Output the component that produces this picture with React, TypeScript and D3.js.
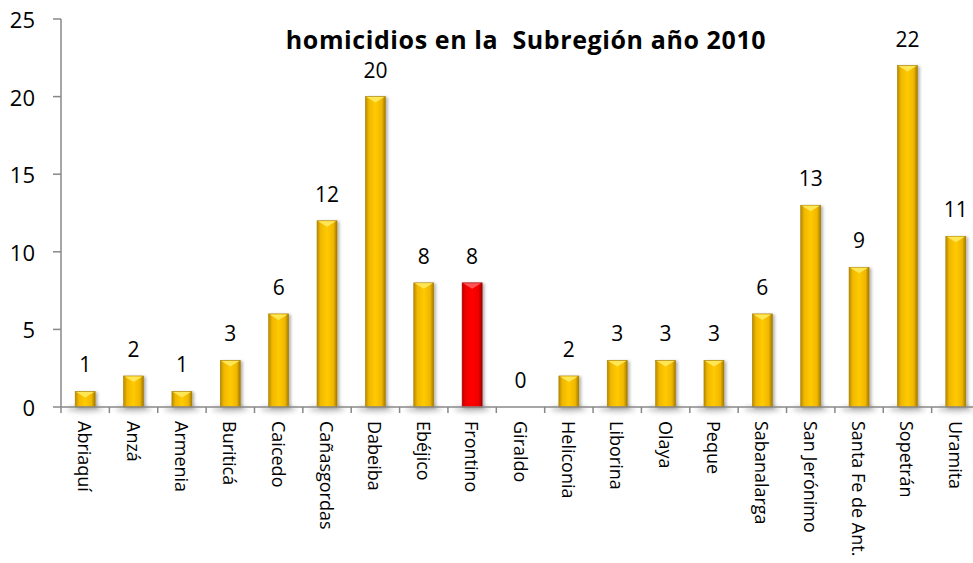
import React from "react";
import * as d3 from "d3";

const categories = ["Abriaquí","Anzá","Armenia","Buriticá","Caicedo","Cañasgordas","Dabeiba","Ebéjico","Frontino","Giraldo","Heliconia","Liborina","Olaya","Peque","Sabanalarga","San Jerónimo","Santa Fe de Ant.","Sopetrán","Uramita"];
const values = [1,2,1,3,6,12,20,8,8,0,2,3,3,3,6,13,9,22,11];
const highlighted = ["Frontino"];
const yTicks = [0,5,10,15,20,25];
const title = "homicidios en la  Subregión año 2010";

const W = 973, H = 563;
const FONT = "'Open Sans', 'Liberation Sans', sans-serif";

export default function App() {
  const x = d3.scaleBand<string>().domain(categories).range([61, 980]).paddingInner(0).paddingOuter(0);
  const y = d3.scaleLinear().domain([0, 25]).range([407, 19]);
  const bw = 20;
  return (
    <svg width={W} height={H} style={{ position: "absolute", left: 0, top: 0, background: "#fff" }}>
      <defs>
        <linearGradient id="gold" x1="0" x2="1" y1="0" y2="0">
          <stop offset="0" stopColor="#b98a00" />
          <stop offset="0.18" stopColor="#f0b800" />
          <stop offset="0.5" stopColor="#ffca00" />
          <stop offset="0.82" stopColor="#f0b600" />
          <stop offset="1" stopColor="#a07800" />
        </linearGradient>
        <linearGradient id="red" x1="0" x2="1" y1="0" y2="0">
          <stop offset="0" stopColor="#c00000" />
          <stop offset="0.18" stopColor="#f00000" />
          <stop offset="0.5" stopColor="#ff0000" />
          <stop offset="0.82" stopColor="#f00000" />
          <stop offset="1" stopColor="#a00000" />
        </linearGradient>
        <filter id="shadow" x="-50%" y="-20%" width="200%" height="140%">
          <feDropShadow dx="2" dy="1" stdDeviation="1.5" floodColor="#000" floodOpacity="0.3" />
        </filter>
        <filter id="blur" x="-50%" y="-100%" width="200%" height="300%">
          <feGaussianBlur stdDeviation="2.5" />
        </filter>
      </defs>
      {categories.map((c, i) => values[i] > 0 ? (
        <ellipse key={"s" + c} cx={x(c)! + x.bandwidth() / 2} cy={409} rx={18} ry={3}
          fill="#999" opacity={0.6} filter="url(#blur)" />
      ) : null)}
      {categories.map((c, i) => {
        const v = values[i];
        if (v <= 0) return null;
        const cx = x(c)! + x.bandwidth() / 2;
        const x0 = cx - bw / 2;
        const top = y(v);
        const h = y(0) - top;
        const isRed = highlighted.includes(c);
        const tri = Math.min(6, h * 0.6);
        return (
          <g key={c}>
            <rect x={x0} y={top} width={bw} height={h} fill={`url(#${isRed ? "red" : "gold"})`}
              stroke={isRed ? "#9a0000" : "#a88000"} strokeWidth={0.6} filter="url(#shadow)" />
            <path d={`M${x0 + 1},${top + 0.5}L${x0 + bw - 1},${top + 0.5}L${cx},${top + tri}Z`}
              fill={isRed ? "#ff5a5a" : "#ffe85a"} opacity={0.95} />
          </g>
        );
      })}
      <line x1={61} x2={61} y1={19} y2={407} stroke="#888" strokeWidth={1.5} />
      <line x1={61} x2={980} y1={407} y2={407} stroke="#888" strokeWidth={1.5} />
      {yTicks.map(t => (
        <g key={"yt" + t}>
          <line x1={53} x2={61} y1={y(t)} y2={y(t)} stroke="#888" strokeWidth={1.5} />
          <text x={35} y={y(t)} textAnchor="end" dominantBaseline="central" fontFamily={FONT} fontSize={22} fill="#000">{t}</text>
        </g>
      ))}
      {categories.map((c) => (
        <line key={"xt" + c} x1={x(c)!} x2={x(c)!} y1={407} y2={413} stroke="#888" strokeWidth={1.5} />
      ))}
      {categories.map((c, i) => (
        <text key={"v" + c} x={x(c)! + x.bandwidth() / 2} y={y(values[i]) - 19} textAnchor="middle"
          fontFamily={FONT} fontSize={21} fill="#000">{values[i]}</text>
      ))}
      {categories.map((c) => {
        const cx = x(c)! + x.bandwidth() / 2;
        return (
          <text key={"c" + c} transform={`translate(${cx},421) rotate(90)`} textAnchor="start" dominantBaseline="central"
            fontFamily={FONT} fontSize={18} fill="#000">{c}</text>
        );
      })}
      <text x={526} y={49} textAnchor="middle" fontFamily={FONT} fontWeight="bold" fontSize={25} letterSpacing={0.6} fill="#000"
        style={{ whiteSpace: "pre" }}>{title}</text>
    </svg>
  );
}
